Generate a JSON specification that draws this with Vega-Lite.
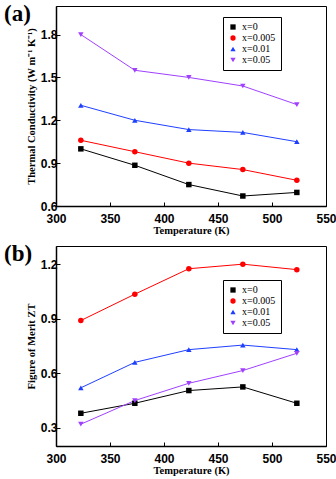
{
  "$schema": "https://vega.github.io/schema/vega-lite/v6.json",
  "autosize": {"type": "pad"},
  "padding": {"left": 3, "top": 2, "right": 5, "bottom": 2},
  "background": "white",
  "spacing": 40,
  "bounds": "flush",
  "config": {
    "view": {"stroke": "black", "strokeWidth": 1},
    "axis": {
      "labelFont": "Liberation Sans", "labelFontWeight": "bold", "labelFontSize": 12, "labelColor": "black",
      "titleFont": "Liberation Serif", "titleFontWeight": "bold", "titleFontSize": 10.5, "titleColor": "black",
      "domainColor": "black", "domainWidth": 1.5, "tickColor": "black", "tickSize": -4, "tickWidth": 1,
      "grid": false, "labelPadding": 3, "labelFlush": false
    },
    "axisX": {"labelPadding": 11, "titlePadding": 1},
    "legend": {
      "orient": "none", "title": null, "fillColor": "white", "strokeColor": "black",
      "padding": 5, "labelFont": "Liberation Serif", "labelFontSize": 10, "labelColor": "black",
      "symbolSize": 28, "rowPadding": 1, "symbolStrokeWidth": 0
    },
    "title": {
      "font": "Liberation Serif", "fontSize": 23, "fontWeight": "bold", "color": "black",
      "anchor": "start", "frame": "group", "baseline": "bottom", "offset": -20, "dx": -52
    }
  },
  "datasets": {
    "tc": [
      {"T": 323, "s": "x=0", "v": 1.0},
      {"T": 373, "s": "x=0", "v": 0.885},
      {"T": 423, "s": "x=0", "v": 0.75},
      {"T": 473, "s": "x=0", "v": 0.67},
      {"T": 523, "s": "x=0", "v": 0.695},
      {"T": 323, "s": "x=0.005", "v": 1.06},
      {"T": 373, "s": "x=0.005", "v": 0.98},
      {"T": 423, "s": "x=0.005", "v": 0.9},
      {"T": 473, "s": "x=0.005", "v": 0.855},
      {"T": 523, "s": "x=0.005", "v": 0.78},
      {"T": 323, "s": "x=0.01", "v": 1.305},
      {"T": 373, "s": "x=0.01", "v": 1.2},
      {"T": 423, "s": "x=0.01", "v": 1.135},
      {"T": 473, "s": "x=0.01", "v": 1.115},
      {"T": 523, "s": "x=0.01", "v": 1.05},
      {"T": 323, "s": "x=0.05", "v": 1.8},
      {"T": 373, "s": "x=0.05", "v": 1.55},
      {"T": 423, "s": "x=0.05", "v": 1.5},
      {"T": 473, "s": "x=0.05", "v": 1.44},
      {"T": 523, "s": "x=0.05", "v": 1.31}
    ],
    "zt": [
      {"T": 323, "s": "x=0", "v": 0.38},
      {"T": 373, "s": "x=0", "v": 0.435},
      {"T": 423, "s": "x=0", "v": 0.505},
      {"T": 473, "s": "x=0", "v": 0.525},
      {"T": 523, "s": "x=0", "v": 0.435},
      {"T": 323, "s": "x=0.005", "v": 0.89},
      {"T": 373, "s": "x=0.005", "v": 1.035},
      {"T": 423, "s": "x=0.005", "v": 1.175},
      {"T": 473, "s": "x=0.005", "v": 1.2},
      {"T": 523, "s": "x=0.005", "v": 1.17},
      {"T": 323, "s": "x=0.01", "v": 0.52},
      {"T": 373, "s": "x=0.01", "v": 0.66},
      {"T": 423, "s": "x=0.01", "v": 0.73},
      {"T": 473, "s": "x=0.01", "v": 0.755},
      {"T": 523, "s": "x=0.01", "v": 0.73},
      {"T": 323, "s": "x=0.05", "v": 0.32},
      {"T": 373, "s": "x=0.05", "v": 0.45},
      {"T": 423, "s": "x=0.05", "v": 0.545},
      {"T": 473, "s": "x=0.05", "v": 0.615},
      {"T": 523, "s": "x=0.05", "v": 0.71}
    ]
  },
  "vconcat": [
    {
      "title": {"text": "(a)"},
      "width": 270, "height": 200,
      "data": {"name": "tc"},
      "encoding": {
        "x": {"field": "T", "type": "quantitative", "title": "Temperature  (K)",
              "scale": {"domain": [300, 550], "nice": false},
              "axis": {"values": [300, 350, 400, 450, 500, 550]}},
        "y": {"field": "v", "type": "quantitative", "title": "Thermal Conductivity (W m⁻¹ K⁻¹)",
              "scale": {"domain": [0.6, 2.0], "nice": false},
              "axis": {"values": [0.6, 0.9, 1.2, 1.5, 1.8], "format": ".1f"}},
        "color": {"field": "s", "type": "nominal",
                  "scale": {"domain": ["x=0", "x=0.005", "x=0.01", "x=0.05"], "range": ["#000000", "#ff0000", "#1f3fff", "#a040ff"]},
                  "legend": {"legendX": 167, "legendY": 11}}
      },
      "layer": [
        {"mark": {"type": "line", "strokeWidth": 1}},
        {"mark": {"type": "point", "filled": true, "opacity": 1, "size": 30},
         "encoding": {"shape": {"field": "s", "type": "nominal",
                      "scale": {"domain": ["x=0", "x=0.005", "x=0.01", "x=0.05"], "range": ["square", "circle", "triangle-up", "triangle-down"]},
                      "legend": {"legendX": 167, "legendY": 11}}}}
      ]
    },
    {
      "title": {"text": "(b)"},
      "width": 270, "height": 200,
      "data": {"name": "zt"},
      "encoding": {
        "x": {"field": "T", "type": "quantitative", "title": "Temperature  (K)",
              "scale": {"domain": [300, 550], "nice": false},
              "axis": {"values": [300, 350, 400, 450, 500, 550]}},
        "y": {"field": "v", "type": "quantitative", "title": "Figure of Merit  ZT",
              "scale": {"domain": [0.2, 1.3], "nice": false},
              "axis": {"values": [0.3, 0.6, 0.9, 1.2], "format": ".1f"}},
        "color": {"field": "s", "type": "nominal",
                  "scale": {"domain": ["x=0", "x=0.005", "x=0.01", "x=0.05"], "range": ["#000000", "#ff0000", "#1f3fff", "#a040ff"]},
                  "legend": {"legendX": 167, "legendY": 34}}
      },
      "layer": [
        {"mark": {"type": "line", "strokeWidth": 1}},
        {"mark": {"type": "point", "filled": true, "opacity": 1, "size": 30},
         "encoding": {"shape": {"field": "s", "type": "nominal",
                      "scale": {"domain": ["x=0", "x=0.005", "x=0.01", "x=0.05"], "range": ["square", "circle", "triangle-up", "triangle-down"]},
                      "legend": {"legendX": 167, "legendY": 34}}}}
      ]
    }
  ],
  "resolve": {"scale": {"color": "independent", "shape": "independent"}}
}
